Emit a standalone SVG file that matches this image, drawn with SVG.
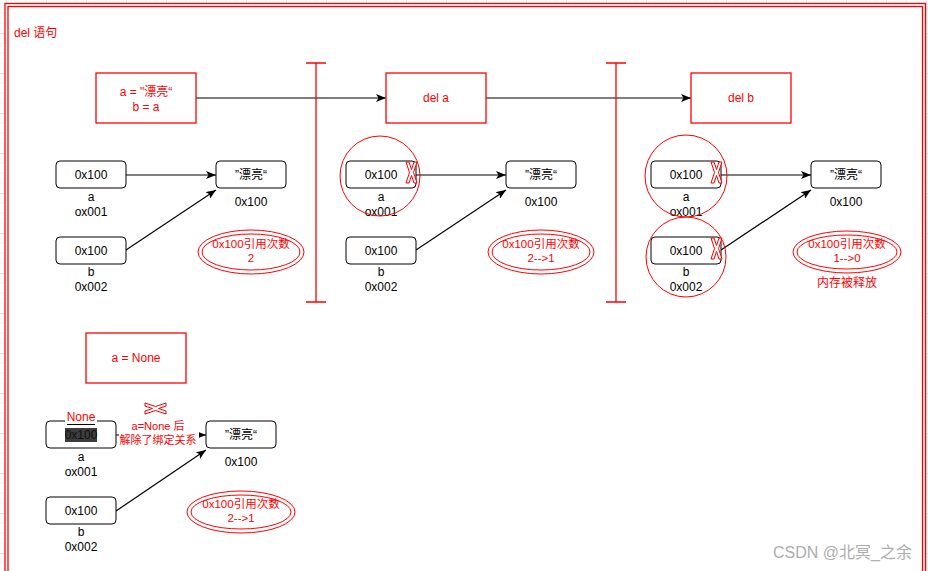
<svg xmlns="http://www.w3.org/2000/svg" width="928" height="571" viewBox="0 0 928 571">
<defs>
<style>
text{font-family:"Liberation Sans","Noto Sans CJK SC",sans-serif;font-size:12px;text-anchor:middle;fill:#000}
.r{fill:#ff0000}
.et{fill:#ff0000;font-size:11.5px}
.box{fill:#fff;stroke:#ff0000;stroke-width:1.3}
.rb{fill:#fff;stroke:#000;stroke-width:1}
.ln{stroke:#000;stroke-width:1.2;fill:none}
.sep{stroke:#ff0000;stroke-width:1.3;fill:none}
.circ{fill:none;stroke:#ff0000;stroke-width:1}
.el{fill:#fff;stroke:#ff0000;stroke-width:1}
.x{fill:#fff;stroke:#ff0000;stroke-width:1}
</style>
<marker id="ah" markerUnits="userSpaceOnUse" markerWidth="10" markerHeight="8" refX="10" refY="4" orient="auto">
<path d="M0,0 L10,4 L0,8 L2.5,4 Z" fill="#000"/>
</marker>
<path id="xm" d="M0,0 L3,0 L5.5,7.5 L8,0 L11,0 L7.5,10.5 L11,21 L8,21 L5.5,13.5 L3,21 L0,21 L3.5,10.5 Z"/>
<pattern id="grid" width="40" height="40" patternUnits="userSpaceOnUse" x="6" y="33">
<path d="M10,0V40M20,0V40M30,0V40M0,10H40M0,20H40M0,30H40" stroke="#f2f2f2" stroke-width="1"/>
<path d="M0.5,0V40M0,0.5H40" stroke="#e2e2e2" stroke-width="1"/>
</pattern>
</defs>
<rect width="928" height="571" fill="#fff"/>
<rect width="928" height="571" fill="url(#grid)"/>
<rect x="5" y="3.5" width="920.5" height="600" fill="#fff" stroke="#ff0000" stroke-width="1.3"/>
<rect x="8" y="6.5" width="914.5" height="600" fill="none" stroke="#ff0000" stroke-width="1.3"/>

<g id="title"><text x="14" y="37" class="r" style="text-anchor:start">del 语句</text></g>

<g id="connectors">
<line class="ln" x1="196" y1="98" x2="386" y2="98" marker-end="url(#ah)"/>
<line class="ln" x1="486" y1="98" x2="691" y2="98" marker-end="url(#ah)"/>
<line class="ln" x1="126" y1="175" x2="216" y2="175" marker-end="url(#ah)"/>
<line class="ln" x1="126" y1="250" x2="216" y2="190" marker-end="url(#ah)"/>
<line class="ln" x1="416" y1="175" x2="506" y2="175" marker-end="url(#ah)"/>
<line class="ln" x1="416" y1="250" x2="506" y2="190" marker-end="url(#ah)"/>
<line class="ln" x1="721" y1="175" x2="811" y2="175" marker-end="url(#ah)"/>
<line class="ln" x1="721" y1="250" x2="811" y2="190" marker-end="url(#ah)"/>
<line class="ln" x1="116" y1="435" x2="206" y2="435" marker-end="url(#ah)"/>
<line class="ln" x1="116" y1="511" x2="206" y2="450" marker-end="url(#ah)"/>
</g>

<g id="sep1"><path class="sep" d="M316,63V302M306,63H326M306,302H326"/></g>
<g id="sep2"><path class="sep" d="M616,63V302M606,63H626M606,302H626"/></g>

<g id="step-assign"><rect class="box" x="96" y="73" width="100" height="50"/>
<text x="146" y="96" class="r">a = "漂亮“</text><text x="146" y="111" class="r">b = a</text></g>
<g id="step-del-a"><rect class="box" x="386" y="73" width="100" height="50"/><text x="436" y="102" class="r">del a</text></g>
<g id="step-del-b"><rect class="box" x="691" y="73" width="100" height="50"/><text x="741" y="102" class="r">del b</text></g>

<!-- section 1 -->
<g id="s1-a"><rect class="rb" x="56" y="161" width="70" height="27" rx="4"/><text x="91" y="179">0x100</text>
<text x="91" y="201">a</text><text x="91" y="216">ox001</text></g>
<g id="s1-b"><rect class="rb" x="56" y="237" width="70" height="27" rx="4"/><text x="91" y="255">0x100</text>
<text x="91" y="276">b</text><text x="91" y="291">0x002</text></g>
<g id="s1-obj"><rect class="rb" x="216" y="161" width="70" height="27" rx="4"/><text x="251" y="179">”漂亮“</text>
<text x="251" y="206">0x100</text></g>
<g id="s1-count"><ellipse class="el" cx="251" cy="252" rx="53" ry="22"/><ellipse class="el" cx="251" cy="252" rx="49" ry="18"/>
<text x="251" y="248" class="et">0x100引用次数</text><text x="251" y="262" class="et">2</text></g>

<!-- section 2 -->
<g id="s2-a"><rect class="rb" x="346" y="161" width="70" height="27" rx="4"/><text x="381" y="179">0x100</text>
<text x="381" y="201">a</text><text x="381" y="216">ox001</text>
<circle class="circ" cx="380" cy="176" r="40"/>
<use href="#xm" class="x" x="406" y="162"/></g>
<g id="s2-b"><rect class="rb" x="346" y="237" width="70" height="27" rx="4"/><text x="381" y="255">0x100</text>
<text x="381" y="276">b</text><text x="381" y="291">0x002</text></g>
<g id="s2-obj"><rect class="rb" x="506" y="161" width="70" height="27" rx="4"/><text x="541" y="179">”漂亮“</text>
<text x="541" y="206">0x100</text></g>
<g id="s2-count"><ellipse class="el" cx="541" cy="252" rx="53" ry="22"/><ellipse class="el" cx="541" cy="252" rx="49" ry="18"/>
<text x="541" y="248" class="et">0x100引用次数</text><text x="541" y="262" class="et">2--&gt;1</text></g>

<!-- section 3 -->
<g id="s3-a"><rect class="rb" x="651" y="161" width="70" height="27" rx="4"/><text x="686" y="179">0x100</text>
<text x="686" y="201">a</text><text x="686" y="216">ox001</text>
<circle class="circ" cx="686" cy="176" r="41"/>
<use href="#xm" class="x" x="711" y="162"/></g>
<g id="s3-b"><rect class="rb" x="651" y="237" width="70" height="27" rx="4"/><text x="686" y="255">0x100</text>
<text x="686" y="276">b</text><text x="686" y="291">0x002</text>
<circle class="circ" cx="686" cy="257" r="40"/>
<use href="#xm" class="x" x="711" y="238"/></g>
<g id="s3-obj"><rect class="rb" x="811" y="161" width="70" height="27" rx="4"/><text x="846" y="179">”漂亮“</text>
<text x="846" y="206">0x100</text></g>
<g id="s3-count"><ellipse class="el" cx="847" cy="252" rx="54" ry="21"/><ellipse class="el" cx="847" cy="252" rx="50" ry="17"/>
<text x="847" y="248" class="et">0x100引用次数</text><text x="847" y="262" class="et">1--&gt;0</text>
<text x="847" y="287" class="r">内存被释放</text></g>

<!-- bottom section -->
<g id="step-none"><rect class="box" x="86" y="333" width="100" height="50"/><text x="136" y="362" class="r">a = None</text></g>
<g id="b-a"><rect class="rb" x="46" y="421" width="70" height="27" rx="4"/>
<rect x="65" y="408" width="32" height="16" fill="#fff"/>
<text x="81" y="421" class="r">None</text>
<line x1="67" y1="424.5" x2="95" y2="424.5" stroke="#000" stroke-width="1"/>
<rect x="65" y="428" width="32" height="14" fill="#3c3c3c"/>
<text x="81" y="439" style="fill:#111">0x100</text>
<text x="81" y="461">a</text><text x="81" y="476">ox001</text></g>
<g id="b-label"><rect x="119" y="418" width="80" height="30" fill="#fff"/>
<text x="158" y="430" class="r" style="font-size:11px">a=None 后</text>
<text x="158" y="444" class="r" style="font-size:11px">解除了绑定关系</text>
<use href="#xm" class="x" transform="translate(166,403) rotate(90)"/></g>
<g id="b-b"><rect class="rb" x="46" y="497" width="70" height="27" rx="4"/><text x="81" y="515">0x100</text>
<text x="81" y="536">b</text><text x="81" y="551">0x002</text></g>
<g id="b-obj"><rect class="rb" x="206" y="421" width="70" height="27" rx="4"/><text x="241" y="439">”漂亮“</text>
<text x="241" y="466">0x100</text></g>
<g id="b-count"><ellipse class="el" cx="241" cy="512" rx="54" ry="21"/><ellipse class="el" cx="241" cy="512" rx="50" ry="17"/>
<text x="241" y="508" class="et">0x100引用次数</text><text x="241" y="522" class="et">2--&gt;1</text></g>

<g id="watermark"><text x="912" y="558" style="text-anchor:end;font-size:16px;fill:#adadad">CSDN @北冥_之余</text></g>
</svg>
